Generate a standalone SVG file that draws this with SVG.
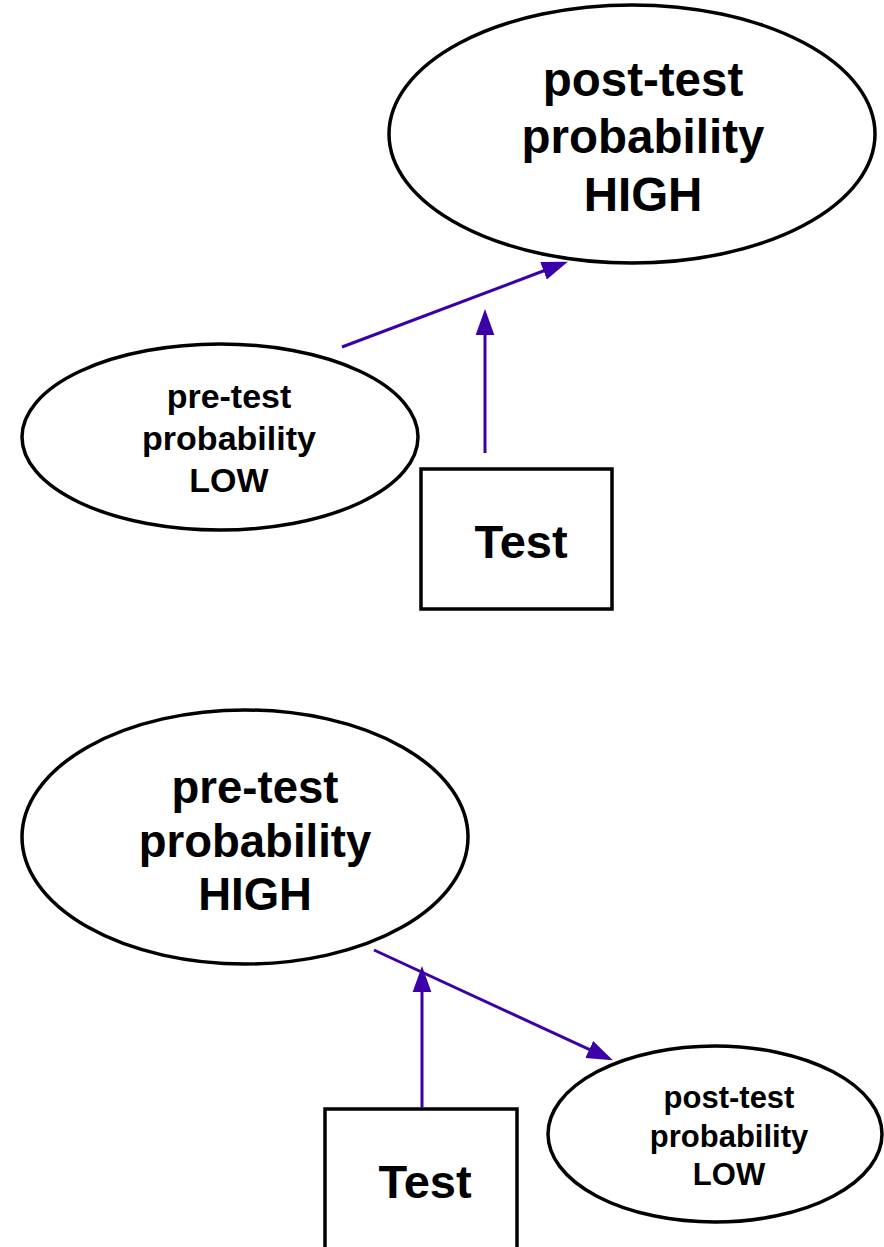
<svg xmlns="http://www.w3.org/2000/svg" width="884" height="1247" viewBox="0 0 884 1247">
<style>
.node{fill:#fff;stroke:#000;stroke-width:3.5}
.t{font-family:"Liberation Sans",Arial,sans-serif;font-weight:bold;fill:#000;text-anchor:middle}
.c{stroke:#3c00a8;stroke-width:3;fill:none;marker-end:url(#ah)}
</style>
<defs>
<marker id="ah" markerUnits="userSpaceOnUse" markerWidth="26" markerHeight="20" viewBox="0 0 25 18" refX="1" refY="9" orient="auto">
<path d="M0,0 L25,9 L0,18 z" fill="#3c00a8"/>
</marker>
</defs>
<rect width="884" height="1247" fill="#fff"/>
<g id="post-high">
<ellipse class="node" cx="632" cy="134" rx="243" ry="129"/>
<text class="t" font-size="47.5" x="643" y="96">post-test</text>
<text class="t" font-size="47.5" x="643" y="153">probability</text>
<text class="t" font-size="47.5" x="643" y="211">HIGH</text>
</g>
<g id="pre-low">
<ellipse class="node" cx="220" cy="437" rx="198" ry="93"/>
<text class="t" font-size="34" x="229" y="408">pre-test</text>
<text class="t" font-size="34" x="229" y="450">probability</text>
<text class="t" font-size="34" x="229" y="492">LOW</text>
</g>
<g id="test-top">
<rect class="node" x="421" y="469" width="191" height="140"/>
<text class="t" font-size="47" x="521" y="558">Test</text>
</g>
<g id="pre-high">
<ellipse class="node" cx="245" cy="837" rx="223" ry="127"/>
<text class="t" font-size="45.5" x="255" y="803">pre-test</text>
<text class="t" font-size="45.5" x="255" y="857">probability</text>
<text class="t" font-size="45.5" x="255" y="910">HIGH</text>
</g>
<g id="test-bottom">
<rect class="node" x="325" y="1109" width="192" height="150"/>
<text class="t" font-size="47" x="425" y="1198">Test</text>
</g>
<g id="post-low">
<ellipse class="node" cx="715" cy="1134" rx="167" ry="88"/>
<text class="t" font-size="31" x="729" y="1108">post-test</text>
<text class="t" font-size="31" x="729" y="1147">probability</text>
<text class="t" font-size="31" x="729" y="1185">LOW</text>
</g>
<g id="connectors">
<line class="c" x1="342" y1="347" x2="544.5" y2="270.5"/>
<line class="c" x1="485" y1="453" x2="485" y2="334"/>
<line class="c" x1="374" y1="950" x2="590.2" y2="1049.9"/>
<line class="c" x1="422" y1="1108" x2="422" y2="991"/>
</g>
</svg>
